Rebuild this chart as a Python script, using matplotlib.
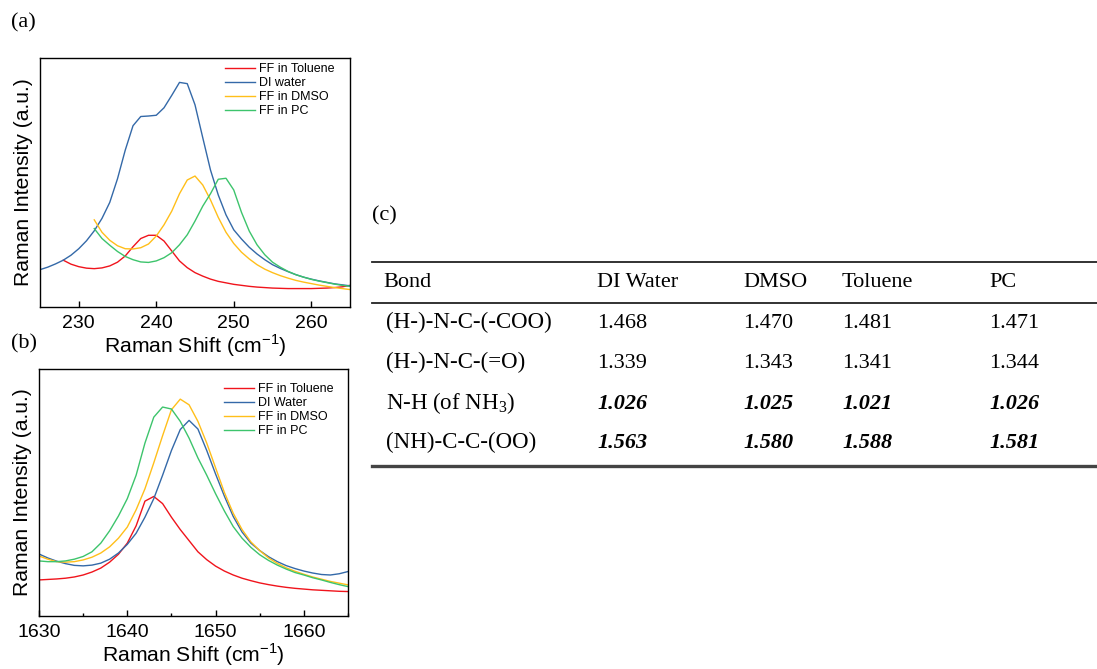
import numpy as np
import matplotlib
matplotlib.use('Agg')
import matplotlib.pyplot as plt
from matplotlib.lines import Line2D
import matplotlib.ticker as tkr

##### ---------------------- data (a): low wavenumber region
shiftA = np.arange(225, 266)
waterA = [15.0, 16.0, 17.3, 18.8, 20.8, 23.4, 26.6, 30.6, 35.6, 42.0,
	51.5, 63.0, 72.8, 76.5, 76.7, 77.0, 80.0, 85.0, 90.2, 89.7,
	81.2, 68.0, 55.0, 45.0, 37.0, 31.0, 27.3, 24.0, 21.3, 19.0,
	17.0, 15.5, 14.2, 13.0, 12.0, 11.2, 10.5, 9.9, 9.3, 8.9, 8.5]
shiftA_tol = np.arange(228, 266)
tolueneA = [18.8, 17.2, 16.2, 15.6, 15.4, 15.7, 16.5, 18.0, 20.5, 24.2,
	27.5, 28.8, 28.8, 26.5, 22.5, 18.5, 15.8, 13.8, 12.4, 11.2,
	10.3, 9.7, 9.1, 8.7, 8.3, 8.0, 7.8, 7.6, 7.5, 7.4,
	7.4, 7.4, 7.4, 7.5, 7.6, 7.8, 8.1, 8.7]
shiftA_sol = np.arange(232, 266)
dmsoA = [35.0, 30.0, 26.8, 24.6, 23.4, 23.3, 23.8, 25.3, 28.5, 33.0,
	38.5, 45.5, 51.0, 52.6, 49.0, 43.0, 36.0, 30.0, 25.5, 22.0,
	19.3, 17.0, 15.2, 13.8, 12.6, 11.6, 10.7, 10.0, 9.4, 8.8,
	8.3, 7.8, 7.4, 7.0]
pcA = [31.5, 27.5, 24.8, 22.3, 20.3, 19.0, 18.1, 17.9, 18.5, 19.8,
	21.8, 25.0, 29.0, 34.5, 40.5, 45.5, 51.3, 51.7, 47.0, 38.0,
	30.5, 25.0, 21.0, 18.0, 16.0, 14.3, 13.0, 12.0, 11.1, 10.4,
	9.8, 9.2, 8.7, 8.3]

##### ---------------------- data (b): amide region
shiftB = np.arange(1630, 1666)
tolueneB = [14.6, 14.8, 15.0, 15.3, 15.8, 16.6, 17.8, 19.4, 21.8, 25.0,
	29.5, 36.5, 46.5, 48.4, 45.5, 40.0, 35.0, 30.5, 26.0, 22.8,
	20.2, 18.2, 16.6, 15.3, 14.3, 13.4, 12.7, 12.1, 11.6, 11.2,
	10.9, 10.6, 10.4, 10.2, 10.0, 9.9]
waterB = [25.1, 23.5, 22.2, 21.2, 20.5, 20.3, 20.6, 21.4, 23.0, 25.5,
	29.0, 33.5, 40.0, 47.5, 57.0, 67.0, 75.5, 79.2, 75.7, 67.0,
	57.5, 48.5, 40.3, 34.0, 29.5, 26.5, 24.0, 22.0, 20.4, 19.2,
	18.2, 17.4, 16.8, 16.6, 17.1, 18.0]
dmsoB = [24.3, 23.0, 22.0, 21.8, 22.0, 22.7, 23.8, 25.5, 28.0, 31.5,
	36.0, 43.0, 51.5, 62.0, 73.0, 83.5, 87.8, 85.5, 78.8, 70.0,
	60.0, 50.0, 41.6, 35.0, 30.0, 26.5, 23.5, 21.3, 19.5, 18.1,
	16.9, 15.8, 14.9, 14.0, 13.3, 12.6]
pcB = [22.3, 22.0, 22.0, 22.3, 23.0, 24.1, 26.0, 29.5, 34.5, 40.5,
	47.5, 57.0, 70.0, 80.5, 84.6, 83.8, 78.8, 72.0, 64.0, 57.0,
	49.5, 42.5, 36.2, 31.5, 27.8, 24.8, 22.5, 20.6, 19.0, 17.6,
	16.6, 15.5, 14.6, 13.6, 12.7, 11.9]

##### ---------------------- data (c): bond lengths
tab_header = ['Bond', 'DI Water', 'DMSO', 'Toluene', 'PC']
tab_bonds = ['(H-)-N-C-(-COO)', '(H-)-N-C-(=O)', r'N-H (of NH$_{\mathregular{3}}$)', '(NH)-C-C-(OO)']
tab_values = [['1.468', '1.470', '1.481', '1.471'],
	['1.339', '1.343', '1.341', '1.344'],
	['1.026', '1.025', '1.021', '1.026'],
	['1.563', '1.580', '1.588', '1.581']]
tab_bold = [False, False, True, True]

c_red = '#f0141c'
c_blue = '#3469a8'
c_yel = '#ffbf1a'
c_grn = '#3dc46c'

W, H = 1097., 669.
def fx(x):
	return x/W
def fy(y):
	return 1.0-y/H


##### ----------------------
def style_axes(ax, xlim, xticks, minor):
	ax.set_xlim(xlim)
	ax.set_ylim(0, 100)
	ax.set_xticks(xticks)
	ax.set_yticks([])
	if minor:
		ax.xaxis.set_minor_locator(tkr.MultipleLocator(5))
	ax.tick_params(which='major', axis='x', direction='in', length=4, width=1, pad=6, labelsize=14)
	ax.tick_params(which='minor', axis='x', direction='in', length=2.5, width=1)
	for s in ax.spines.values():
		s.set_linewidth(1.0)
	ax.set_xlabel(r'Raman Shift (cm$^{\mathregular{-1}}$)', fontsize=15.2, labelpad=0)
	ax.set_ylabel('Raman Intensity (a.u.)', fontsize=15.2, labelpad=5)


def main():
	plt.rc('font', family='Liberation Sans')
	fig = plt.figure(figsize=(10.97, 6.69), dpi=100)
	leg_kw = dict(loc='upper left', frameon=False, fontsize=9, handlelength=2.4, handletextpad=0.35,
		labelspacing=0.15, borderpad=0, borderaxespad=0)

	### -------- (a)
	axa = fig.add_axes([fx(40), fy(307), 310/W, 249/H])
	axa.plot(shiftA_tol, tolueneA, color=c_red, lw=1.0, label='FF in Toluene')
	axa.plot(shiftA, waterA, color=c_blue, lw=1.0, label='DI water')
	axa.plot(shiftA_sol, dmsoA, color=c_yel, lw=1.0, label='FF in DMSO')
	axa.plot(shiftA_sol, pcA, color=c_grn, lw=1.0, label='FF in PC')
	style_axes(axa, (225, 265), [230, 240, 250, 260], False)
	axa.legend(bbox_to_anchor=(0.597, 0.978), **leg_kw)

	### -------- (b)
	axb = fig.add_axes([fx(39), fy(616), 309/W, 247/H])
	axb.plot(shiftB, tolueneB, color=c_red, lw=1.0, label='FF in Toluene')
	axb.plot(shiftB, waterB, color=c_blue, lw=1.0, label='DI Water')
	axb.plot(shiftB, dmsoB, color=c_yel, lw=1.0, label='FF in DMSO')
	axb.plot(shiftB, pcB, color=c_grn, lw=1.0, label='FF in PC')
	style_axes(axb, (1630, 1665), [1630, 1640, 1650, 1660], True)
	axb.legend(bbox_to_anchor=(0.599, 0.942), **leg_kw)

	### -------- panel letters
	for lab, x, y in [('(a)', 11, 23), ('(b)', 11, 344), ('(c)', 372, 216)]:
		fig.text(fx(x), fy(y), lab, fontsize=16, family='Liberation Serif', va='center', ha='left')

	### -------- (c) table
	tcol = [383, 597, 743, 842, 989]
	fig.add_artist(Line2D([fx(372), fx(1097)], [fy(262), fy(262)], lw=1.3, color='#222222'))
	fig.add_artist(Line2D([fx(372), fx(1097)], [fy(303), fy(303)], lw=1.3, color='#222222'))
	fig.add_artist(Line2D([fx(372), fx(1097)], [fy(466), fy(466)], lw=2.4, color='#444444'))
	for j, h in enumerate(tab_header):
		fig.text(fx(tcol[j]), fy(287), h, fontsize=16, family='Liberation Serif', va='baseline')
	base = [328, 368, 409, 448]
	for i in range(len(tab_bonds)):
		fig.text(fx(386), fy(base[i]), tab_bonds[i], fontsize=16.5, family='Liberation Serif', va='baseline')
		for j in range(4):
			if tab_bold[i]:
				fig.text(fx(tcol[j+1]), fy(base[i]), tab_values[i][j], fontsize=16, family='Liberation Serif',
					weight='bold', style='italic', va='baseline')
			else:
				fig.text(fx(tcol[j+1]), fy(base[i]), tab_values[i][j], fontsize=16, family='Liberation Serif', va='baseline')

	plt.savefig('out.png', dpi=100)
	plt.close()


if __name__ == '__main__':
	main()
